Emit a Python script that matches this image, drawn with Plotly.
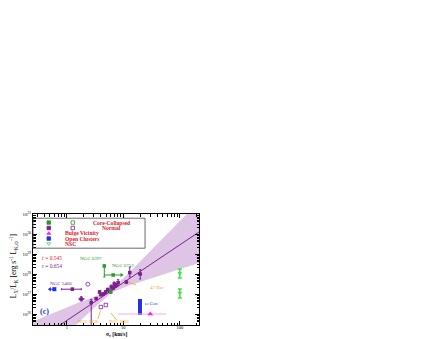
import plotly.graph_objects as go

# ---------------- data (sigma in km/s, log10 emissivity) ----------------
# Normal clusters (filled purple squares)
norm_sigma  = [1.25, 1.8, 2.7, 3.3, 3.8, 4.0, 4.4, 4.85, 5.3, 5.8, 6.1, 6.6, 6.9, 7.4, 8.1, 11.3, 13.0, 19.9]
norm_logL   = [27.24, 26.75, 26.57, 26.77, 27.10, 26.97, 27.00, 27.10, 27.22, 27.13, 27.35, 27.30, 27.50, 27.43, 27.57, 27.60, 28.07, 28.00]
norm_up     = [0.05, 0.12, 0.15, 0.05, 0.08, 0.06, 0.06, 0.08, 0.07, 0.06, 0.10, 0.08, 0.10, 0.10, 0.15, 0.08, 0.28, 0.22]
norm_dn     = [0.05, 0.10, 1.40, 0.05, 0.08, 0.06, 0.06, 0.08, 0.07, 0.06, 0.10, 0.08, 0.10, 0.10, 0.15, 0.08, 0.22, 0.25]
norm_sig_lo = [0.80, 1.65, 2.7, 3.2, 3.7, 3.9, 4.3, 4.7, 5.2, 5.6, 6.0, 6.4, 6.7, 7.2, 7.9, 11.0, 12.6, 18.5]
norm_sig_hi = [1.80, 2.00, 2.7, 3.4, 3.9, 4.1, 4.5, 5.0, 5.4, 6.0, 6.2, 6.8, 7.1, 7.6, 8.3, 11.6, 13.4, 21.0]

# Normal clusters (open symbols)
open_circle_sigma = [2.35]
open_circle_logL  = [27.49]
open_sq_sigma = [4.0, 4.9]
open_sq_logL  = [26.35, 26.45]

# Core-collapsed clusters (green)
cc_sigma  = [4.6, 6.6, 6.0]
cc_logL   = [28.40, 27.95, 27.10]
cc_up     = [0.05, 0.0, 0.05]
cc_dn     = [0.55, 0.0, 0.05]
cc_sig_lo = [4.6, 4.6, 6.0]
cc_sig_hi = [4.6, 9.3, 6.0]

# Open clusters (blue)
oc_sigma = [0.60]
oc_logL  = [27.24]
oc_sig_lo = [0.50]

# Bulge vicinity (magenta)
bulge_sigma = [30.0]
bulge_logL  = [26.0]
bulge_sig_lo = [8.0]
bulge_sig_hi = [57.0]

# Nuclear star clusters (light green)
nsc_sigma = [100.0, 100.0]
nsc_logL  = [28.03, 27.05]
nsc_up    = [0.22, 0.20]
nsc_dn    = [0.23, 0.25]

# omega Cen range
wcen_sigma = [19.7, 19.7]
wcen_logL  = [25.95, 26.75]

# fit line and confidence band
fit_sigma = [0.25, 219.0]
fit_logL  = [24.54, 30.10]
band_sigma = [0.25, 0.63, 1.58, 3.16, 6.3, 12.6, 31.6, 79.4, 219.0]
band_hi    = [25.62, 26.10, 26.56, 26.88, 27.28, 28.06, 29.20, 30.35, 31.62]
band_lo    = [23.40, 24.48, 25.56, 26.35, 27.08, 27.42, 27.78, 28.15, 28.55]

# axis ticks
x_tickvals = [1, 10, 100]
x_ticktext = ["1", "10", "100"]
y_exps = [26, 27, 28, 29, 30, 31]

# ---------------- colours ----------------
PURPLE = "#7d1f8e"
GREEN = "#2a9a2a"
LGREEN = "#3fe03f"
MAGENTA = "#ff19ff"
BLUE = "#2430e8"
ORANGE = "#ff9a1a"
RED = "#e5141e"
BAND = "rgba(205,165,215,0.65)"
FONT = "Liberation Serif"

def p10(v):
    return [10.0 ** x for x in v]

def err_plus(logv, d):
    return [10.0 ** (a + b) - 10.0 ** a for a, b in zip(logv, d)]

def err_minus(logv, d):
    return [10.0 ** a - 10.0 ** (a - b) for a, b in zip(logv, d)]

fig = go.Figure()

# band
fig.add_trace(go.Scatter(
    x=band_sigma + band_sigma[::-1],
    y=p10(band_hi) + p10(band_lo)[::-1],
    fill="toself", fillcolor=BAND, line=dict(width=0), mode="lines",
    hoverinfo="skip", showlegend=False))
# fit line
fig.add_trace(go.Scatter(x=fit_sigma, y=p10(fit_logL), mode="lines",
                         line=dict(color=PURPLE, width=1), showlegend=False))

# leader lines (dashed orange annotation pointers)
leaders = [
    ([11.9, 22.0], [27.60, 27.35]),
    ([3.55, 4.0], [25.75, 26.25]),
    ([7.6, 5.3], [25.70, 26.25]),
]
for lx, ly in leaders:
    fig.add_trace(go.Scatter(x=lx, y=p10(ly), mode="lines",
                             line=dict(color=ORANGE, width=0.8, dash="dash"),
                             showlegend=False))

# omega Cen bar
fig.add_trace(go.Scatter(x=wcen_sigma, y=p10(wcen_logL), mode="lines",
                         line=dict(color=BLUE, width=4), showlegend=False))

# bulge vicinity
fig.add_trace(go.Scatter(
    x=bulge_sigma, y=p10(bulge_logL), mode="markers",
    marker=dict(symbol="triangle-up", size=5, color=MAGENTA),
    error_x=dict(type="data", symmetric=False,
                 array=[h - s for h, s in zip(bulge_sig_hi, bulge_sigma)],
                 arrayminus=[s - l for l, s in zip(bulge_sig_lo, bulge_sigma)],
                 color="#f4a8f4", thickness=1, width=0),
    showlegend=False))

# NSC
fig.add_trace(go.Scatter(
    x=nsc_sigma, y=p10(nsc_logL), mode="markers",
    marker=dict(symbol="triangle-down-open", size=3, color=LGREEN, line=dict(width=1)),
    error_y=dict(type="data", symmetric=False, array=err_plus(nsc_logL, nsc_up),
                 arrayminus=err_minus(nsc_logL, nsc_dn), color=LGREEN, thickness=1.5, width=2),
    showlegend=False))

# open cluster
fig.add_trace(go.Scatter(
    x=oc_sigma, y=p10(oc_logL), mode="markers",
    marker=dict(symbol="square", size=4, color=BLUE),
    error_x=dict(type="data", symmetric=False, array=[0],
                 arrayminus=[s - l for l, s in zip(oc_sig_lo, oc_sigma)],
                 color=BLUE, thickness=1, width=0),
    showlegend=False))
fig.add_trace(go.Scatter(x=oc_sig_lo, y=p10(oc_logL), mode="markers",
                         marker=dict(symbol="triangle-left", size=4, color=BLUE),
                         showlegend=False))

# normal open symbols
fig.add_trace(go.Scatter(x=open_circle_sigma, y=p10(open_circle_logL), mode="markers",
                         marker=dict(symbol="circle-open", size=4, color=PURPLE, line=dict(width=0.8)),
                         showlegend=False))
fig.add_trace(go.Scatter(x=open_sq_sigma, y=p10(open_sq_logL), mode="markers",
                         marker=dict(symbol="square-open", size=3.5, color=PURPLE, line=dict(width=0.8)),
                         showlegend=False))

# normal filled
fig.add_trace(go.Scatter(
    x=norm_sigma, y=p10(norm_logL), mode="markers",
    marker=dict(symbol="square", size=3.5, color=PURPLE),
    error_y=dict(type="data", symmetric=False, array=err_plus(norm_logL, norm_up),
                 arrayminus=err_minus(norm_logL, norm_dn), color=PURPLE, thickness=1, width=1),
    error_x=dict(type="data", symmetric=False,
                 array=[h - s for h, s in zip(norm_sig_hi, norm_sigma)],
                 arrayminus=[s - l for l, s in zip(norm_sig_lo, norm_sigma)],
                 color=PURPLE, thickness=1, width=1),
    showlegend=False))

# core-collapsed
fig.add_trace(go.Scatter(
    x=cc_sigma, y=p10(cc_logL), mode="markers",
    marker=dict(symbol="square", size=3.5, color=GREEN),
    error_y=dict(type="data", symmetric=False, array=err_plus(cc_logL, cc_up),
                 arrayminus=err_minus(cc_logL, cc_dn), color=GREEN, thickness=1, width=1),
    error_x=dict(type="data", symmetric=False,
                 array=[h - s for h, s in zip(cc_sig_hi, cc_sigma)],
                 arrayminus=[s - l for l, s in zip(cc_sig_lo, cc_sigma)],
                 color=GREEN, thickness=1, width=0),
    showlegend=False))
fig.add_trace(go.Scatter(x=[cc_sig_hi[1]], y=p10([cc_logL[1]]), mode="markers",
                         marker=dict(symbol="triangle-right", size=4, color=GREEN),
                         showlegend=False))

# ---------------- legend (drawn on an overlay unit axis) ----------------
leg_rows = [0.923, 0.874, 0.825, 0.779, 0.733]
leg_items = [
    dict(x=0.095, y=leg_rows[0], symbol="square", color=GREEN),
    dict(x=0.24, y=leg_rows[0], symbol="square-open", color=GREEN),
    dict(x=0.095, y=leg_rows[1], symbol="square", color=PURPLE),
    dict(x=0.24, y=leg_rows[1], symbol="square-open", color=PURPLE),
    dict(x=0.095, y=leg_rows[2], symbol="triangle-up", color=MAGENTA),
    dict(x=0.095, y=leg_rows[3], symbol="square", color=BLUE),
    dict(x=0.095, y=leg_rows[4], symbol="triangle-down-open", color=LGREEN),
]
for it in leg_items:
    fig.add_trace(go.Scatter(x=[it["x"]], y=[it["y"]], xaxis="x2", yaxis="y2", mode="markers",
                             marker=dict(symbol=it["symbol"], size=3.5, color=it["color"],
                                         line=dict(width=0.8, color=it["color"])),
                             showlegend=False, hoverinfo="skip"))

fig.add_shape(type="rect", xref="paper", yref="paper", x0=0, x1=0.675, y0=0.692, y1=0.962,
              line=dict(color="#444", width=0.8))

leg_texts = [
    ("Core-Collapsed", 0.475, leg_rows[0], "center"),
    ("Normal", 0.475, leg_rows[1], "center"),
    ("Bulge Vicinity", 0.18, leg_rows[2], "left"),
    ("Open Clusters", 0.18, leg_rows[3], "left"),
    ("NSC", 0.18, leg_rows[4], "left"),
]
anns = []
for t, x, y, a in leg_texts:
    anns.append(dict(text="<b>%s</b>" % t, x=x, y=y, xref="paper", yref="paper",
                     xanchor=a, yanchor="middle", showarrow=False,
                     font=dict(family=FONT, size=5.6, color=RED)))

labels = [
    ("r = 0.545", 0.04, 0.604, "left", RED, 5.5),
    ("r = 0.654", 0.04, 0.532, "left", PURPLE, 5.5),
    ("NGC 6397", 0.35, 0.595, "center", GREEN, 5),
    ("NGC 6752", 0.54, 0.54, "center", GREEN, 5),
    ("NGC 5466", 0.17, 0.37, "center", PURPLE, 5),
    ("47 Tuc", 0.75, 0.342, "center", ORANGE, 5),
    ("ω Cen", 0.66, 0.198, "left", BLUE, 5),
    ("NGC 6838", 0.33, 0.035, "center", ORANGE, 4.5),
    ("NGC 6093", 0.52, 0.035, "center", ORANGE, 4.5),
]
for t, x, y, a, c, s in labels:
    anns.append(dict(text=t, x=x, y=y, xref="paper", yref="paper", xanchor=a, yanchor="middle",
                     showarrow=False, font=dict(family=FONT, size=s, color=c)))

anns.append(dict(text="<b>(c)</b>", x=0.03, y=0.126, xref="paper", yref="paper", xanchor="left",
                 yanchor="middle", showarrow=False, font=dict(family=FONT, size=8, color=BLUE)))
anns.append(dict(text="<b>σ<sub>v</sub> [km/s]</b>", x=0.5, y=-0.09, xref="paper", yref="paper",
                 xanchor="center", yanchor="middle", showarrow=False,
                 font=dict(family=FONT, size=5.5, color="black")))
anns.append(dict(text="L<sub>X</sub>/L<sub>K</sub> [erg s<sup>-1</sup> L<sub>K,⊙</sub><sup>-1</sup>]",
                 x=-0.12, y=0.53, xref="paper", yref="paper", textangle=-90,
                 xanchor="center", yanchor="middle", showarrow=False,
                 font=dict(family=FONT, size=7.5, color="black")))

minor_x = [m * 10.0 ** d for d in range(-1, 3) for m in range(2, 10)]
minor_y = [m * 10.0 ** d for d in range(25, 31) for m in range(2, 10)]

fig.update_layout(
    width=424, height=339,
    margin=dict(l=25, r=233, t=206, b=22),
    paper_bgcolor="white", plot_bgcolor="white",
    font=dict(family=FONT, size=5, color="black"),
    showlegend=False,
    annotations=anns,
    xaxis=dict(type="log", range=[-0.6, 2.34], tickvals=x_tickvals, ticktext=x_ticktext,
               ticks="inside", ticklen=4, tickwidth=0.8, tickcolor="black",
               showline=True, linecolor="black", linewidth=1, mirror="allticks",
               showgrid=False, zeroline=False, tickfont=dict(size=4.5),
               ticklabelstandoff=-2,
               minor=dict(tickmode="array", tickvals=minor_x, ticks="inside", ticklen=2.5,
                          tickwidth=0.6, tickcolor="black", showgrid=False)),
    yaxis=dict(type="log", range=[25.45, 31.0], tickvals=[10.0 ** e for e in y_exps],
               ticktext=["10<sup>%d</sup>" % e for e in y_exps],
               ticks="inside", ticklen=4, tickwidth=0.8, tickcolor="black",
               showline=True, linecolor="black", linewidth=1, mirror="allticks",
               showgrid=False, zeroline=False, tickfont=dict(size=5),
               minor=dict(tickmode="array", tickvals=minor_y, ticks="inside", ticklen=2.5,
                          tickwidth=0.6, tickcolor="black", showgrid=False)),
    xaxis2=dict(overlaying="x", range=[0, 1], visible=False, fixedrange=True),
    yaxis2=dict(overlaying="y", range=[0, 1], visible=False, fixedrange=True),
)

fig.write_html("out.html")
